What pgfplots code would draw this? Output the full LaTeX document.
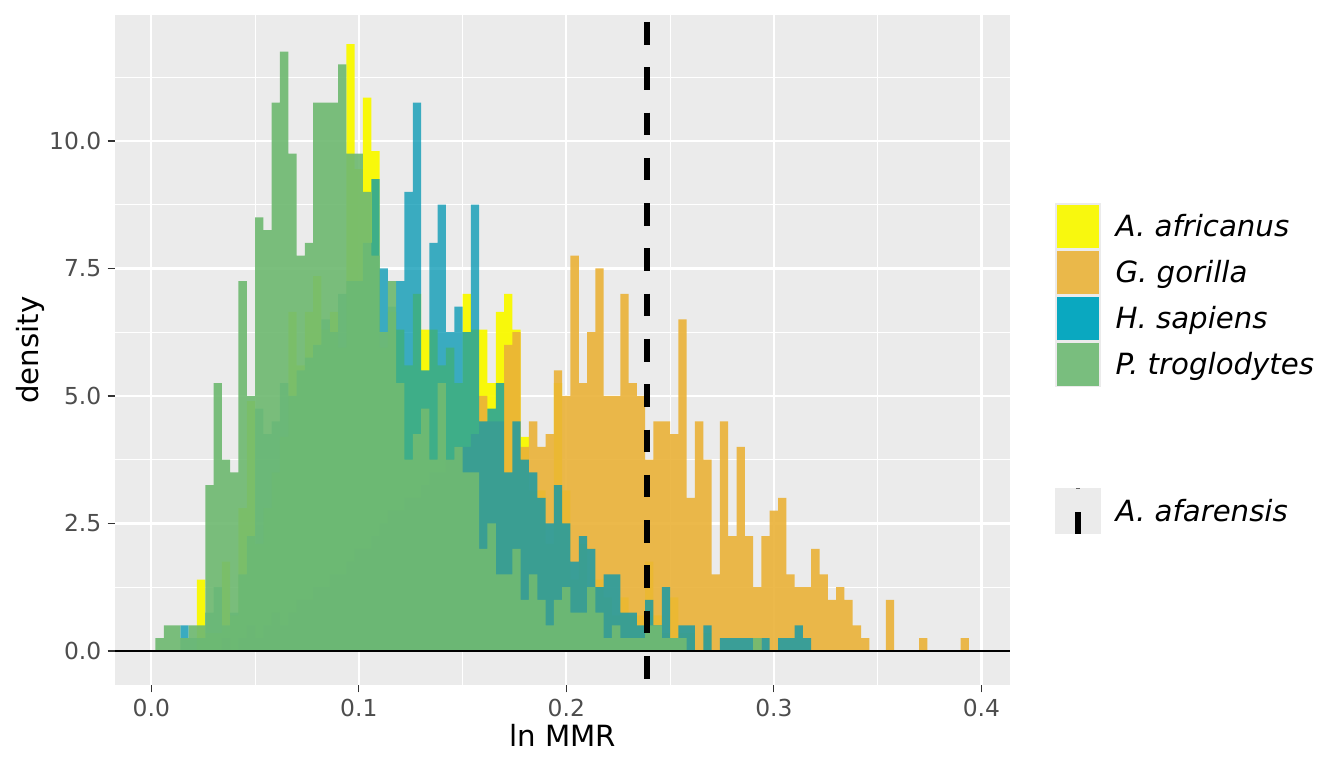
\documentclass[border=0pt]{standalone}
\usepackage{pgfplots}
\usepackage{pgfplotstable}
\pgfplotsset{compat=1.18}
\usepackage{fontspec}
\setmainfont{DejaVu Sans}
\definecolor{bgcol}{HTML}{EBEBEB}
\definecolor{afr}{HTML}{F9F900}
\definecolor{gor}{HTML}{EAB238}
\definecolor{sap}{HTML}{0096B2}
\definecolor{tro}{HTML}{70BA72}
\definecolor{kafr}{HTML}{F8F80E}
\definecolor{kgor}{HTML}{EAB84A}
\definecolor{ksap}{HTML}{0AA8C0}
\definecolor{ktro}{HTML}{79BE7E}
\definecolor{tickcol}{HTML}{333333}
\definecolor{labcol}{HTML}{4D4D4D}

\pgfplotstableread{
x y
0.016 0
0.020 0
0.024 1.4
0.028 0.35
0.032 0.35
0.036 1.75
0.040 0.7
0.044 2.8
0.048 4.9
0.052 2.1
0.056 2.8
0.060 3.5
0.064 4.2
0.068 6.65
0.072 5.6
0.076 6.65
0.080 7.35
0.084 6.3
0.088 6.65
0.092 5.95
0.096 11.9
0.100 9.45
0.104 10.85
0.108 9.8
0.112 5.95
0.116 6.65
0.120 6.3
0.124 5.6
0.128 7.0
0.132 6.3
0.136 6.3
0.140 5.6
0.144 5.95
0.148 5.25
0.152 7.0
0.156 6.3
0.160 6.3
0.164 5.25
0.168 6.65
0.172 7.0
0.176 6.3
0.180 4.2
0.184 3.15
0.188 3.15
0.192 2.1
0.196 5.25
0.200 3.15
0.204 1.4
0.208 2.1
0.212 1.05
0.216 1.4
0.220 1.05
0.224 0.7
0.228 1.05
0.232 0.7
0.236 0.7
0.240 1.75
0.244 0.7
0.248 0.35
0.252 1.05
0.256 0.35
0.260 0.35
0.264 0
0.268 0.35
0.272 0
}\tabafr

\pgfplotstableread{
x y
0.032 0
0.036 0.25
0.040 0
0.044 0.25
0.048 0.5
0.052 0.25
0.056 0.5
0.060 0.75
0.064 0.5
0.068 0.75
0.072 1.0
0.076 1.0
0.080 1.25
0.084 1.25
0.088 1.5
0.092 1.5
0.096 1.75
0.100 2.0
0.104 2.0
0.108 2.25
0.112 2.5
0.116 2.75
0.120 2.75
0.124 3.0
0.128 3.0
0.132 3.25
0.136 3.5
0.140 3.5
0.144 3.75
0.148 4.0
0.152 4.0
0.156 4.25
0.160 5.0
0.164 4.5
0.168 4.5
0.172 6.0
0.176 6.25
0.180 4.0
0.184 4.5
0.188 4.0
0.192 4.25
0.196 5.5
0.200 5.0
0.204 7.75
0.208 5.25
0.212 6.25
0.216 7.5
0.220 5.0
0.224 5.0
0.228 7.0
0.232 5.25
0.236 5.0
0.240 3.75
0.244 4.5
0.248 4.5
0.252 4.25
0.256 6.5
0.260 3.0
0.264 4.5
0.268 3.75
0.272 1.5
0.276 4.5
0.280 2.25
0.284 4.0
0.288 2.25
0.292 1.25
0.296 2.25
0.300 2.75
0.304 3.0
0.308 1.5
0.312 1.25
0.316 1.25
0.320 2.0
0.324 1.5
0.328 1.0
0.332 1.25
0.336 1.0
0.340 0.5
0.344 0.25
0.348 0
0.352 0
0.356 1.0
0.360 0
0.364 0
0.368 0
0.372 0.25
0.376 0
0.380 0
0.384 0
0.388 0
0.392 0.25
0.396 0
}\tabgor

\pgfplotstableread{
x y
0.012 0
0.016 0.5
0.020 0.25
0.024 0.25
0.028 0.75
0.032 1.25
0.036 0.5
0.040 0.75
0.044 1.5
0.048 2.25
0.052 4.75
0.056 4.25
0.060 4.5
0.064 5.25
0.068 5.0
0.072 5.5
0.076 5.75
0.080 6.0
0.084 6.5
0.088 6.25
0.092 7.0
0.096 7.25
0.100 7.25
0.104 8.0
0.108 9.25
0.112 7.5
0.116 6.75
0.120 7.25
0.124 9.0
0.128 10.75
0.132 5.5
0.136 8.0
0.140 8.75
0.144 6.25
0.148 6.75
0.152 6.25
0.156 8.75
0.160 4.5
0.164 4.75
0.168 5.25
0.172 3.5
0.176 4.5
0.180 3.75
0.184 3.5
0.188 3.0
0.192 2.5
0.196 3.25
0.200 2.5
0.204 1.75
0.208 2.25
0.212 2.0
0.216 1.25
0.220 1.5
0.224 1.5
0.228 0.75
0.232 0.75
0.236 0.5
0.240 1.0
0.244 0.5
0.248 1.25
0.252 0.25
0.256 0.5
0.260 0.5
0.264 0
0.268 0.5
0.272 0
0.276 0.25
0.280 0.25
0.284 0.25
0.288 0.25
0.292 0
0.296 0.25
0.300 0
0.304 0.25
0.308 0.25
0.312 0.5
0.316 0.25
0.320 0
}\tabsap

\pgfplotstableread{
x y
0.000 0
0.004 0.25
0.008 0.5
0.012 0.5
0.016 0.25
0.020 0.5
0.024 0.5
0.028 3.25
0.032 5.25
0.036 3.75
0.040 3.5
0.044 7.25
0.048 5.0
0.052 8.5
0.056 8.25
0.060 10.75
0.064 11.75
0.068 9.75
0.072 7.75
0.076 8.0
0.080 10.75
0.084 10.75
0.088 10.75
0.092 11.5
0.096 9.75
0.100 9.75
0.104 9.0
0.108 7.75
0.112 6.25
0.116 7.25
0.120 5.25
0.124 3.75
0.128 4.25
0.132 4.75
0.136 3.75
0.140 5.25
0.144 3.75
0.148 4.0
0.152 3.5
0.156 3.5
0.160 2.0
0.164 2.5
0.168 1.5
0.172 1.5
0.176 2.0
0.180 1.0
0.184 1.5
0.188 1.0
0.192 0.5
0.196 1.0
0.200 1.25
0.204 0.75
0.208 0.75
0.212 1.25
0.216 0.75
0.220 0.25
0.224 0.5
0.228 0.25
0.232 0.25
0.236 0.25
0.240 0.5
0.244 0.5
0.248 0.25
0.252 0.25
0.256 0.25
0.260 0
0.264 0
0.268 0
0.272 0
0.276 0
0.280 0
0.284 0
0.288 0
0.292 0.25
0.296 0
}\tabtro

\begin{document}
\begin{tikzpicture}
\useasboundingbox (-43.125bp,-31.125bp) rectangle (460.875bp,256.875bp);
\begin{axis}[
  at={(0,0)}, anchor=south west,
  scale only axis, width=335.625bp, height=251.25bp,
  xmin=-0.0175, xmax=0.4138, ymin=-0.667, ymax=12.47,
  axis background/.style={fill=bgcol},
  axis line style={draw=none},
  xtick={0,0.1,0.2,0.3,0.4}, xticklabels={0.0,0.1,0.2,0.3,0.4},
  ytick={0,2.5,5,7.5,10}, yticklabels={0.0,2.5,5.0,7.5,10.0},
  minor xtick={0.05,0.15,0.25,0.35},
  minor ytick={1.25,3.75,6.25,8.75,11.25},
  grid=both,
  major grid style={white, line width=0.85bp},
  minor grid style={white, line width=0.42bp},
  tick align=outside, xtick pos=bottom, ytick pos=left,
  major tick length=2.75bp, minor tick length=0bp,
  tick style={color=tickcol, line width=0.42bp},
  xticklabel style={font=\fontsize{8.8pt}{10pt}\selectfont, text=labcol, inner sep=0pt, anchor=north, yshift=-2.2bp},
  yticklabel style={font=\fontsize{8.8pt}{10pt}\selectfont, text=labcol, inner sep=0pt, anchor=east, xshift=-2.2bp},
  xlabel={ln MMR}, ylabel={density},
  xlabel style={font=\fontsize{11pt}{13pt}\selectfont, at={(axis description cs:0.5,-0.0925)}, anchor=base},
  ylabel style={font=\fontsize{11pt}{13pt}\selectfont, at={(axis description cs:-0.095,0.5)}, anchor=center},
  clip=true,
]
\addplot[const plot mark mid, draw=none, fill=afr, fill opacity=0.95] table[x=x,y=y] {\tabafr} \closedcycle;
\addplot[const plot mark mid, draw=none, fill=gor, fill opacity=0.9] table[x=x,y=y] {\tabgor} \closedcycle;
\addplot[const plot mark mid, draw=none, fill=sap, fill opacity=0.75] table[x=x,y=y] {\tabsap} \closedcycle;
\addplot[const plot mark mid, draw=none, fill=tro, fill opacity=0.92] table[x=x,y=y] {\tabtro} \closedcycle;
\addplot[black, line width=0.85bp] coordinates {(-0.0175,0) (0.4138,0)};
\addplot[black, line width=2.3bp, dash pattern=on 8.49bp off 8.49bp, dash phase=14.36bp] coordinates {(0.239,12.47) (0.239,-0.667)};
\end{axis}
% legend (fill)
\foreach \i/\c/\t in {0/kafr/A. africanus,1/kgor/G. gorilla,2/ksap/H. sapiens,3/ktro/P. troglodytes}{
  \fill[bgcol] (352.5bp,{180.5625bp-17.25bp*\i}) rectangle (369.75bp,{163.3125bp-17.25bp*\i});
  \fill[\c] (353.1bp,{179.95bp-17.25bp*\i}) rectangle (369.15bp,{163.9bp-17.25bp*\i});
  \node[anchor=base west, inner sep=0pt, font=\fontsize{11pt}{13pt}\selectfont\itshape] at (375bp,{168.11bp-17.25bp*\i}) {\t};
}
% legend (line)
\fill[bgcol] (352.5bp,73.875bp) rectangle (369.75bp,56.625bp);
\fill[black] (360bp,64.99bp) rectangle (362.25bp,56.625bp);
\fill[black!60] (360.4bp,73.875bp) rectangle (361.85bp,73.4bp);
\node[anchor=base west, inner sep=0pt, font=\fontsize{11pt}{13pt}\selectfont\itshape] at (375bp,61.24bp) {A. afarensis};
\end{tikzpicture}
\end{document}
